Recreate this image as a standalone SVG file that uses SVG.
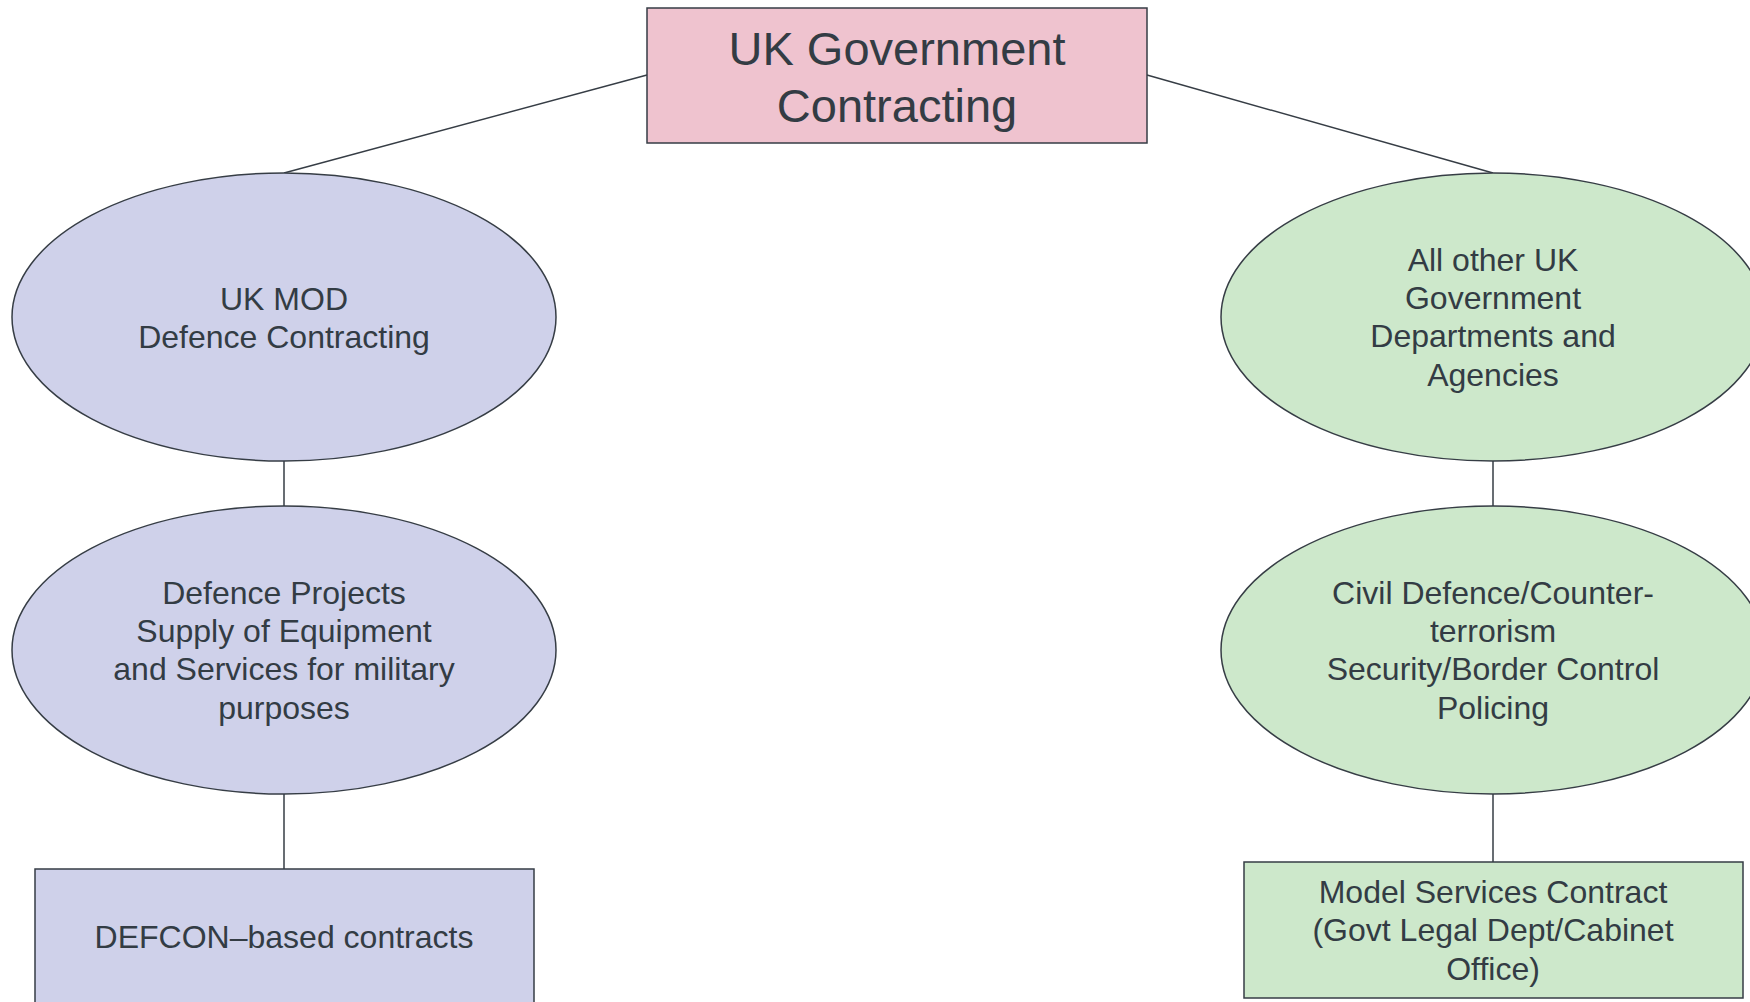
<svg xmlns="http://www.w3.org/2000/svg" width="1750" height="1002" viewBox="0 0 1750 1002">
<style>
.n{stroke:#363d45;stroke-width:1.5}
.pink{fill:#efc3cf}
.lav{fill:#cfd1ea}
.grn{fill:#cde8cb}
.c{fill:none;stroke:#363d45;stroke-width:1.5}
text{font-family:"Liberation Sans",Arial,sans-serif;fill:#333c44;text-anchor:middle;font-size:32px}
.t{font-size:47px}
</style>
<rect width="1750" height="1002" fill="#ffffff"/>
<g id="connectors">
<line class="c" x1="647" y1="75" x2="284" y2="173"/>
<line class="c" x1="1147" y1="75" x2="1493" y2="173"/>
<line class="c" x1="284" y1="461" x2="284" y2="506"/>
<line class="c" x1="284" y1="794" x2="284" y2="869"/>
<line class="c" x1="1493" y1="461" x2="1493" y2="506"/>
<line class="c" x1="1493" y1="794" x2="1493" y2="862"/>
</g>
<g id="root">
<rect class="n pink" x="647" y="8" width="500" height="135"/>
<text class="t" x="897" y="65">UK Government</text>
<text class="t" x="897" y="121.5">Contracting</text>
</g>
<g id="mod">
<ellipse class="n lav" cx="284" cy="317" rx="272" ry="144"/>
<text x="284" y="310">UK MOD</text>
<text x="284" y="348.4">Defence Contracting</text>
</g>
<g id="defence-projects">
<ellipse class="n lav" cx="284" cy="650" rx="272" ry="144"/>
<text x="284" y="603.5">Defence Projects</text>
<text x="284" y="641.9">Supply of Equipment</text>
<text x="284" y="680.3">and Services for military</text>
<text x="284" y="718.7">purposes</text>
</g>
<g id="defcon">
<rect class="n lav" x="35" y="869" width="499" height="140"/>
<text x="284" y="948">DEFCON–based contracts</text>
</g>
<g id="other-depts">
<ellipse class="n grn" cx="1493" cy="317" rx="272" ry="144"/>
<text x="1493" y="270.5">All other UK</text>
<text x="1493" y="308.9">Government</text>
<text x="1493" y="347.3">Departments and</text>
<text x="1493" y="385.7">Agencies</text>
</g>
<g id="civil-defence">
<ellipse class="n grn" cx="1493" cy="650" rx="272" ry="144"/>
<text x="1493" y="603.5">Civil Defence/Counter-</text>
<text x="1493" y="641.9">terrorism</text>
<text x="1493" y="680.3">Security/Border Control</text>
<text x="1493" y="718.7">Policing</text>
</g>
<g id="model-services">
<rect class="n grn" x="1244" y="862" width="499" height="136"/>
<text x="1493" y="902.7">Model Services Contract</text>
<text x="1493" y="941.1">(Govt Legal Dept/Cabinet</text>
<text x="1493" y="979.5">Office)</text>
</g>
</svg>
